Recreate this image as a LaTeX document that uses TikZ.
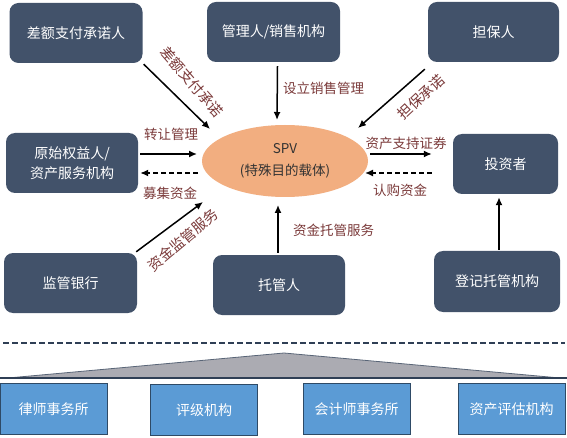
\documentclass[tikz,border=0pt]{standalone}
\usepackage{fontspec}
\setmainfont{Noto Sans CJK SC}
\usetikzlibrary{arrows.meta,calc,shapes.geometric}
\definecolor{navy}{HTML}{42526A}
\definecolor{peach}{HTML}{F2AE80}
\definecolor{lbl}{HTML}{7B3A3A}
\definecolor{blu}{HTML}{5B9BD5}
\definecolor{edgec}{HTML}{2E4A66}
\definecolor{tri}{HTML}{ABABB2}
\definecolor{dline}{HTML}{2F3F55}
\begin{document}
\begin{tikzpicture}[x=1pt,y=-1pt,
  party/.style={fill=navy, rounded corners=9pt, text=white,
    font=\fontsize{14}{20}\selectfont, align=center,
    minimum width=133pt, minimum height=60pt, inner sep=0pt},
  agency/.style={fill=blu, draw=edgec, line width=0.8pt, text=white,
    font=\fontsize{14}{16}\selectfont,
    minimum width=107pt, minimum height=51pt, inner sep=0pt},
  arr/.style={line width=1.5pt, -{Latex[length=8pt,width=7pt]}},
  darr/.style={arr, dash pattern=on 5pt off 3pt},
  lab/.style={text=lbl, font=\fontsize{13.5}{15}\selectfont, inner sep=1pt},
  rlab/.style={lab, font=\fontsize{14.5}{15}\selectfont},
]
\useasboundingbox[fill=white] (0,0) rectangle (567,438);

% parties
\node[party] (chae) at (76,33) {差额支付承诺人};
\node[party] (guanli) at (273.5,32) {管理人/销售机构};
\node[party, minimum width=131pt] (danbao) at (493.5,32) {担保人};
\node[party, minimum width=132pt] (yuan) at (72,163) {原始权益人/\\资产服务机构};
\node[party, minimum width=105pt] (tou) at (505.5,164) {投资者};
\node[party] (jianguan) at (70.5,283) {监管银行};
\node[party, minimum width=132pt] (tuoguan) at (279,285) {托管人};
\node[party, minimum width=126pt, minimum height=61pt] (dengji) at (497,281.5) {登记托管机构};

% SPV
\node[ellipse, fill=peach, minimum width=166pt, minimum height=72pt, inner sep=0pt,
  align=center, text=black!80, font=\fontsize{13.5}{22}\selectfont] (spv) at (285,161)
  {SPV\\(特殊目的载体)};

% connectors
\draw[arr] ($(chae.south east)+(1,1)$) -- ($(spv.center)+(-75,-32)$);
\draw[arr] ($(guanli.south)+(4,4)$) -- ($(spv.center)+(-8,-41)$);
\draw[arr] ($(danbao.south west)+(-3,7)$) -- ($(spv.center)+(73,-33)$);
\draw[arr] ($(yuan.east)+(2,-9)$) -- ($(spv.center)+(-88,-7)$);
\draw[darr] ($(spv.center)+(-87,12)$) -- ($(yuan.east)+(2,10)$);
\draw[arr] ($(jianguan.north east)+(-1,-1)$) -- ($(spv.center)+(-82,41)$);
\draw[arr] ($(tuoguan.north)+(-1,-2)$) -- ($(spv.center)+(-7,44)$);
\draw[arr] ($(spv.center)+(85,-7)$) -- ($(tou.west)+(-21,-10)$);
\draw[darr] ($(tou.west)+(-21,9)$) -- ($(spv.center)+(80,12)$);
\draw[arr] ($(dengji.north)+(2,-1)$) -- ($(tou.south)+(-6.5,3)$);

% labels
\node[rlab, rotate=-49] (l1) at (192,82) {差额支付承诺};
\node[lab, anchor=west] (l2) at (282,88) {设立销售管理};
\node[rlab, rotate=43] (l3) at (421,97) {担保承诺};
\node[lab] (l4) at (171,134) {转让管理};
\node[lab] (l5) at (170,193) {募集资金};
\node[rlab, rotate=40] (l6) at (183,240) {资金监管服务};
\node[lab, anchor=west] (l7) at (292,230) {资金托管服务};
\node[lab] (l8) at (406,143) {资产支持证券};
\node[lab] (l9) at (400,190) {认购资金};

% separator
\draw[dline, line width=1.5pt, dash pattern=on 6pt off 3pt] (3,343) -- (565,343);
\draw[fill=tri, draw=dline!80, line width=0.8pt] (8,378) -- (284,353) -- (560,378) -- cycle;
\draw[dline, line width=1.2pt] (0,378) -- (567,378);

% agencies
\node[agency] (a1) at (53.5,409) {律师事务所};
\node[agency] (a2) at (204,410) {评级机构};
\node[agency] (a3) at (356.5,409) {会计师事务所};
\node[agency] (a4) at (511.5,409) {资产评估机构};
\end{tikzpicture}
\end{document}
